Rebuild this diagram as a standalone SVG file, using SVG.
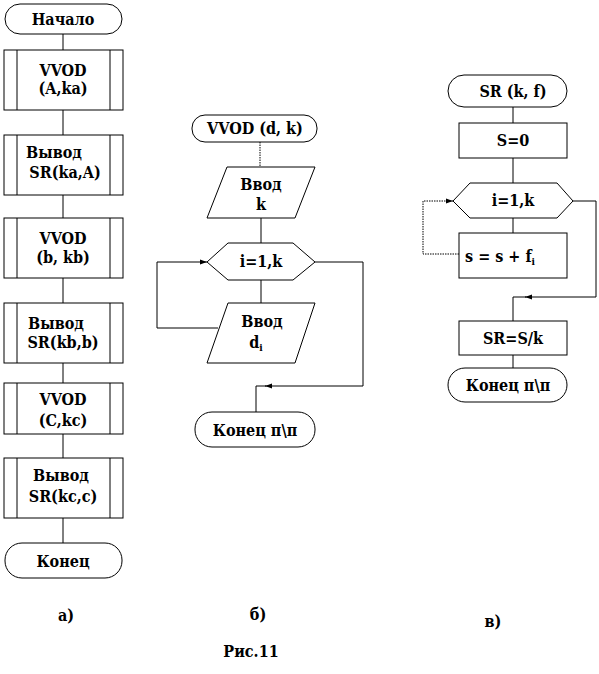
<svg xmlns="http://www.w3.org/2000/svg" width="599" height="674" viewBox="0 0 599 674">
<style>
.s{fill:#fff;stroke:#000;stroke-width:1}
.l{fill:none;stroke:#000;stroke-width:1}
.d{fill:none;stroke:#000;stroke-width:1;stroke-dasharray:1.5 1}
.t{font-family:'DejaVu Serif Condensed','DejaVu Serif',serif;font-stretch:condensed;font-weight:bold;font-size:16px;text-anchor:middle;fill:#000}
</style>
<defs>
<marker id="ar" markerWidth="8" markerHeight="6" refX="7" refY="3" orient="auto" markerUnits="userSpaceOnUse">
<path d="M0,0.5 L7,3 L0,5.5 Z" fill="#000"/>
</marker>
</defs>
<rect width="599" height="674" fill="#fff"/>
<g id="connectors">
<line class="l" x1="63" y1="34" x2="63" y2="50"/>
<line class="l" x1="63" y1="110" x2="63" y2="135"/>
<line class="l" x1="63" y1="195" x2="63" y2="218"/>
<line class="l" x1="63" y1="278" x2="63" y2="303"/>
<line class="l" x1="63" y1="363" x2="63" y2="383"/>
<line class="l" x1="63" y1="434" x2="63" y2="458"/>
<line class="l" x1="63" y1="518" x2="63" y2="543"/>
<line class="d" x1="260" y1="142" x2="260" y2="167"/>
<line class="l" x1="261" y1="218" x2="261" y2="243"/>
<line class="l" x1="261" y1="280" x2="261" y2="303"/>
<polyline class="l" points="218,328 157,328 157,262 207,262" marker-end="url(#ar)"/>
<polyline class="l" points="315,262 363,262 363,386 265,386" marker-end="url(#ar)"/>
<polyline class="l" points="266,386 256,386 256,412"/>
<line class="l" x1="513" y1="107" x2="513" y2="123"/>
<line class="l" x1="513" y1="158" x2="513" y2="183"/>
<line class="l" x1="513" y1="218" x2="513" y2="233"/>
<polyline class="d" points="459,254 423,254 423,201 453,201" marker-end="url(#ar)"/>
<polyline class="l" points="573,201 596,201 596,297 525,297" marker-end="url(#ar)"/>
<polyline class="l" points="526,297 513,297 513,321"/>
<line class="l" x1="513" y1="355" x2="513" y2="368"/>
</g>
<g id="a_start"><rect class="s" x="5" y="4" width="117" height="30" rx="15"/><text class="t" x="63" y="25">Начало</text></g>
<g id="a_vvod1"><rect class="s" x="4" y="50" width="119" height="60"/><line class="l" x1="17" y1="50" x2="17" y2="110"/><line class="l" x1="110" y1="50" x2="110" y2="110"/><text class="t" x="63" y="76">VVOD</text><text class="t" x="63" y="94">(A,ka)</text></g>
<g id="a_out1"><rect class="s" x="4" y="135" width="119" height="60"/><line class="l" x1="17" y1="135" x2="17" y2="195"/><line class="l" x1="110" y1="135" x2="110" y2="195"/><text class="t" x="54" y="158">Вывод</text><text class="t" x="65" y="178">SR(ka,A)</text></g>
<g id="a_vvod2"><rect class="s" x="4" y="218" width="119" height="60"/><line class="l" x1="17" y1="218" x2="17" y2="278"/><line class="l" x1="110" y1="218" x2="110" y2="278"/><text class="t" x="63" y="244">VVOD</text><text class="t" x="63" y="263">(b, kb)</text></g>
<g id="a_out2"><rect class="s" x="4" y="303" width="119" height="60"/><line class="l" x1="17" y1="303" x2="17" y2="363"/><line class="l" x1="110" y1="303" x2="110" y2="363"/><text class="t" x="56" y="329">Вывод</text><text class="t" x="63" y="348">SR(kb,b)</text></g>
<g id="a_vvod3"><rect class="s" x="4" y="383" width="119" height="51"/><line class="l" x1="17" y1="383" x2="17" y2="434"/><line class="l" x1="110" y1="383" x2="110" y2="434"/><text class="t" x="63" y="405">VVOD</text><text class="t" x="63" y="426">(C,kc)</text></g>
<g id="a_out3"><rect class="s" x="4" y="458" width="119" height="60"/><line class="l" x1="17" y1="458" x2="17" y2="518"/><line class="l" x1="110" y1="458" x2="110" y2="518"/><text class="t" x="61" y="481">Вывод</text><text class="t" x="63" y="502">SR(kc,c)</text></g>
<g id="a_end"><rect class="s" x="5" y="543" width="117" height="35" rx="17"/><text class="t" x="63" y="567">Конец</text></g>
<g id="b_start"><rect class="s" x="192" y="115" width="125" height="27" rx="13"/><text class="t" x="255" y="134">VVOD (d, k)</text></g>
<g id="b_in1"><polygon class="s" points="227,167 315,167 295,218 207,218"/><text class="t" x="261" y="190">Ввод</text><text class="t" x="261" y="210">k</text></g>
<g id="b_loop"><polygon class="s" points="207,262 228,243 293,243 315,262 293,280 228,280"/><text class="t" x="261" y="267">i=1,k</text></g>
<g id="b_in2"><polygon class="s" points="228,303 315,303 295,363 207,363"/><text class="t" x="262" y="327">Ввод</text><text class="t" x="256" y="348">d<tspan font-size="10" dy="3">i</tspan></text></g>
<g id="b_end"><rect class="s" x="195" y="412" width="120" height="35" rx="17"/><text class="t" x="255" y="436">Конец п\п</text></g>
<g id="c_start"><rect class="s" x="448" y="75" width="119" height="32" rx="16"/><text class="t" x="513" y="97">SR (k, f)</text></g>
<g id="c_s0"><rect class="s" x="459" y="123" width="108" height="35"/><text class="t" x="513" y="146">S=0</text></g>
<g id="c_loop"><polygon class="s" points="453,201 470,183 557,183 573,201 557,218 470,218"/><text class="t" x="513" y="206">i=1,k</text></g>
<g id="c_sum"><rect class="s" x="459" y="233" width="108" height="45"/><text class="t" x="500" y="262">s = s + f<tspan font-size="10" dy="3">i</tspan></text></g>
<g id="c_sr"><rect class="s" x="459" y="321" width="108" height="34"/><text class="t" x="513" y="344">SR=S/k</text></g>
<g id="c_end"><rect class="s" x="448" y="368" width="119" height="34" rx="17"/><text class="t" x="508" y="391">Конец п\п</text></g>
<g id="captions"><text class="t" x="66" y="621">а)</text><text class="t" x="258" y="620">б)</text><text class="t" x="493" y="627">в)</text><text class="t" x="251" y="657">Рис.11</text></g>
</svg>
